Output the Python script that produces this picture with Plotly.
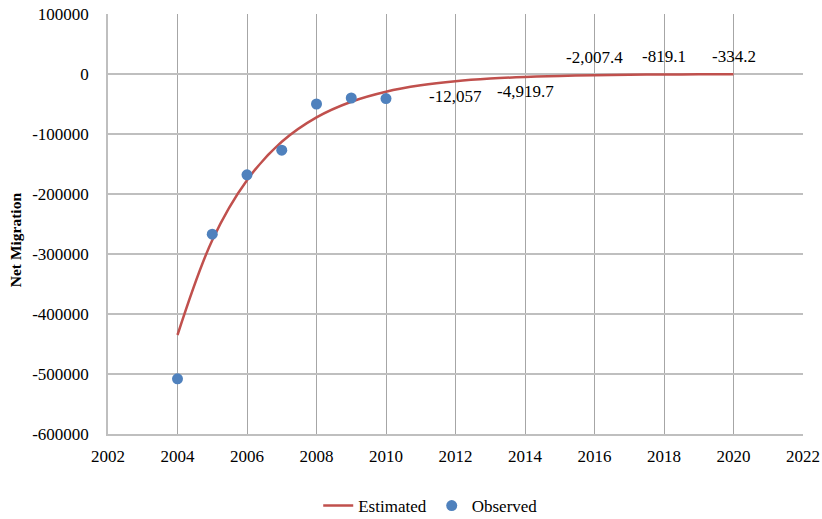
import plotly.graph_objects as go

# observed net migration
obs_years = [2004, 2005, 2006, 2007, 2008, 2009, 2010]
obs_values = [-508000, -267000, -168000, -127000, -50000, -40000, -41000]

# estimated curve, read at each year
est_years = list(range(2004, 2021))
est_values = [-435000, -277000, -177000, -113000, -72300, -46200, -29500, -18900,
              -12057, -7700, -4919.7, -3140, -2007.4, -1280, -819.1, -523, -334.2]

# labelled points of the estimate
lab_years = [2012, 2014, 2016, 2018, 2020]
lab_values = [-12057, -4919.7, -2007.4, -819.1, -334.2]
lab_text = ["-12,057", "-4,919.7", "-2,007.4", "-819.1", "-334.2"]
lab_below = [True, True, False, False, False]

y_ticks = [100000, 0, -100000, -200000, -300000, -400000, -500000, -600000]
y_ticktext = ["100000", "0", "-100000", "-200000", "-300000", "-400000", "-500000", "-600000"]

serif = "'Liberation Serif', 'Times New Roman', serif"

fig = go.Figure()
fig.add_trace(go.Scatter(
    x=est_years, y=est_values, mode='lines', name='Estimated',
    line=dict(color='#C0504D', width=2.5, shape='spline'),
))
fig.add_trace(go.Scatter(
    x=obs_years, y=obs_values, mode='markers', name='Observed',
    marker=dict(color='#4F81BD', size=11),
))

for xv, yv, t, below in zip(lab_years, lab_values, lab_text, lab_below):
    fig.add_annotation(x=xv, y=yv, text=t, showarrow=False,
                       yshift=-15 if below else 18,
                       font=dict(family=serif, size=17, color='black'))

# y axis title as annotation so it sits slightly below the plot centre, like the original
fig.add_annotation(xref='paper', yref='paper', x=-0.132, y=0.462, text='<b>Net Migration</b>',
                   textangle=-90, showarrow=False, xanchor='center', yanchor='middle',
                   font=dict(family=serif, size=15.5, color='black'))

fig.update_layout(
    width=822, height=519,
    margin=dict(l=108, r=19, t=14, b=85),
    plot_bgcolor='white', paper_bgcolor='white',
    font=dict(family=serif, size=17, color='black'),
    legend=dict(orientation='h', xref='container', yref='container',
                x=0.524, xanchor='center', y=0.025, yanchor='middle',
                font=dict(family=serif, size=17)),
    xaxis=dict(range=[2002, 2022], dtick=2, tick0=2002, showgrid=True,
               gridcolor='#a6a6a6', gridwidth=1, showline=True, linecolor='#bfbfbf',
               linewidth=1.5, zeroline=False, ticks='', ticklabelstandoff=6,
               automargin=False, tickfont=dict(family=serif, size=17)),
    yaxis=dict(range=[-600000, 100000], tickvals=y_ticks, ticktext=y_ticktext,
               showgrid=True, gridcolor='#bfbfbf', gridwidth=1.5, showline=True,
               linecolor='#bfbfbf', linewidth=1.5, zeroline=False, ticks='',
               ticklabelstandoff=14, automargin=False,
               tickfont=dict(family=serif, size=17)),
)

# drop the default page margin so the figure fills the window exactly
fig.write_html("out.html", config={'displayModeBar': False},
               post_script="document.body.style.margin='0';")
